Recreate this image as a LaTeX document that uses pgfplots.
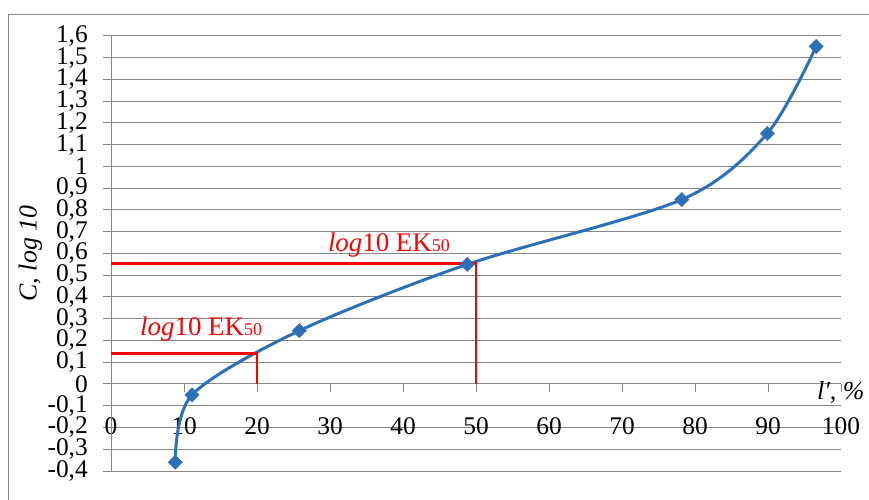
\documentclass[border=0pt]{standalone}
\usepackage{pgfplots}
\pgfplotsset{compat=1.18}
\usepackage{fontspec}
\setmainfont{Liberation Serif}
\definecolor{gridgray}{RGB}{134,134,134}
\definecolor{lineblue}{RGB}{46,112,184}
\definecolor{redl}{RGB}{255,0,0}
\begin{document}
\begin{tikzpicture}
\useasboundingbox (0bp,0bp) rectangle (869bp,500bp);
\fill[white] (0bp,0bp) rectangle (869bp,500bp);
\draw[gridgray, line width=1bp] (8.5bp,-5bp) -- (8.5bp,485.5bp) -- (880bp,485.5bp);
\begin{axis}[
  scale only axis, width=730bp, height=435bp,
  at={(111bp,29bp)}, anchor=south west,
  xmin=0, xmax=100, ymin=-0.4, ymax=1.6,
  axis line style={draw=none},
  clip=false,
  xtick={0,10,20,30,40,50,60,70,80,90,100},
  xticklabels={0,10,20,30,40,50,60,70,80,90,100},
  ytick={-0.4,-0.3,-0.2,-0.1,0,0.1,0.2,0.3,0.4,0.5,0.6,0.7,0.8,0.9,1,1.1,1.2,1.3,1.4,1.5,1.6},
  yticklabels={{-0,4},{-0,3},{-0,2},{-0,1},0,{0,1},{0,2},{0,3},{0,4},{0,5},{0,6},{0,7},{0,8},{0,9},1,{1,1},{1,2},{1,3},{1,4},{1,5},{1,6}},
  tick label style={font=\fontsize{25.5}{30}\selectfont},
  ymajorgrids, major grid style={gridgray, line width=1bp},
  ytick pos=left, ytick align=outside, major tick length=8bp,
  ytick style={gridgray, line width=1bp},
  xtick style={draw=none}, xtick align=inside,
  xticklabel style={anchor=center, yshift=44.5bp},
  yticklabel style={inner sep=0pt, xshift=-15bp},
]
\draw[gridgray, line width=1bp] (axis cs:0,-0.4) -- (axis cs:0,1.6);
\pgfplotsinvokeforeach{10,20,30,40,50,60,70,80,90,100}{
  \draw[gridgray, line width=1bp] (axis cs:#1,0) -- ++(0bp,-8bp);
}
\addplot[lineblue, line width=3bp, smooth, tension=0.5, mark=square*, mark size=5bp,
  mark options={solid, fill=lineblue, draw=lineblue, rotate=45, line width=0.5bp}]
  coordinates {(8.8,-0.36) (11.1,-0.05) (25.8,0.245) (48.8,0.55) (78.2,0.848) (89.9,1.152) (96.6,1.552)};
\addplot[redl, line width=2.5bp, mark=none] coordinates {(0,0.141) (20,0.141) (20,0)};
\addplot[redl, line width=2.5bp, mark=none] coordinates {(0,0.554) (50,0.554) (50,0)};
\node[anchor=base west, inner sep=0pt, text=redl, font=\fontsize{27}{30}\selectfont]
  at (axis cs:3.97,0.221) {\textit{log}10 EK{\fontsize{18}{20}\selectfont 50}};
\node[anchor=base west, inner sep=0pt, text=redl, font=\fontsize{27}{30}\selectfont]
  at (axis cs:29.7,0.61) {\textit{log}10 EK{\fontsize{18}{20}\selectfont 50}};
\node[anchor=west, inner sep=0pt, font=\fontsize{26}{30}\selectfont]
  at (axis cs:96.7,-0.038) {\textit{l′, \%}};
\end{axis}
\node[rotate=90, anchor=base, inner sep=0pt, font=\fontsize{26}{30}\selectfont\itshape]
  at (36.5bp,246.5bp) {C, log 10};
\end{tikzpicture}
\end{document}
